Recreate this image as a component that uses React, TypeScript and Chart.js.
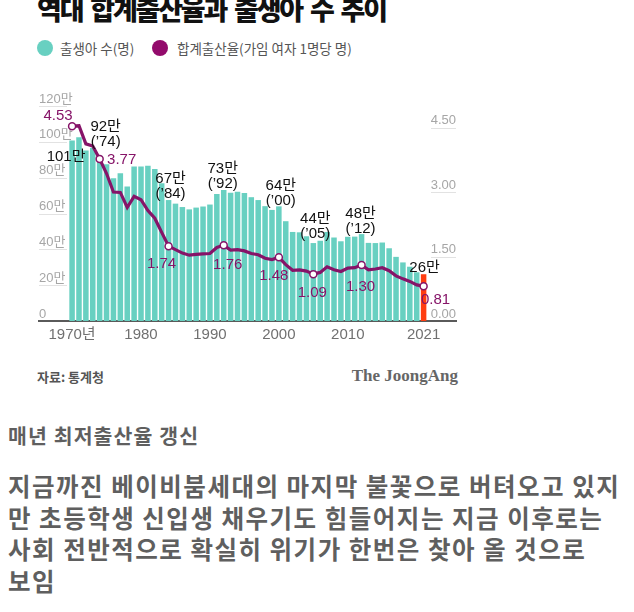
import React, { useEffect, useRef } from 'react';
import { Chart, registerables } from 'chart.js';

Chart.register(...registerables);

// ---------- data ----------
const years = [
  1970, 1971, 1972, 1973, 1974, 1975, 1976, 1977, 1978, 1979,
  1980, 1981, 1982, 1983, 1984, 1985, 1986, 1987, 1988, 1989,
  1990, 1991, 1992, 1993, 1994, 1995, 1996, 1997, 1998, 1999,
  2000, 2001, 2002, 2003, 2004, 2005, 2006, 2007, 2008, 2009,
  2010, 2011, 2012, 2013, 2014, 2015, 2016, 2017, 2018, 2019,
  2020, 2021,
];
// births, unit: 만 명
const births = [
  100.7, 102.5, 95.2, 96.7, 92.3, 87.5, 79.7, 82.5, 75.1, 86.2,
  86.3, 86.7, 84.8, 76.9, 67.5, 65.5, 63.6, 62.3, 63.3, 63.9,
  65.0, 70.9, 73.1, 71.6, 72.1, 71.5, 69.1, 67.5, 64.1, 62.0,
  64.0, 55.7, 49.7, 49.5, 47.3, 43.5, 44.8, 49.7, 46.6, 44.5,
  47.0, 47.1, 48.5, 43.6, 43.5, 43.8, 40.6, 35.8, 32.7, 30.3,
  27.2, 26.1,
];
// total fertility rate
const tfr = [
  4.53, 4.54, 4.12, 4.07, 3.77, 3.43, 3.0, 2.99, 2.64, 2.9,
  2.82, 2.57, 2.39, 2.06, 1.74, 1.66, 1.58, 1.53, 1.55, 1.56,
  1.57, 1.71, 1.76, 1.65, 1.66, 1.63, 1.57, 1.54, 1.46, 1.43,
  1.48, 1.31, 1.18, 1.19, 1.16, 1.09, 1.13, 1.26, 1.19, 1.15,
  1.23, 1.24, 1.3, 1.19, 1.21, 1.24, 1.17, 1.05, 0.98, 0.92,
  0.84, 0.81,
];
const highlightYears = [1970, 1974, 1984, 1992, 2000, 2005, 2012, 2021];
const birthLabelYears = [1970, 1974, 1984, 1992, 2000, 2005, 2012, 2021];
const birthLabelTexts = ['101만', '92만', '67만', '73만', '64만', '44만', '48만', '26만'];
const birthLabelSubs = ['', '(’74)', '(’84)', '(’92)', '(’00)', '(’05)', '(’12)', ''];
const xTickYears = [1970, 1980, 1990, 2000, 2010, 2021];
const leftTicks = [0, 20, 40, 60, 80, 100, 120];
const rightTicks = [0, 1.5, 3, 4.5];

const seriesNames = ['출생아 수(명)', '합계출산율(가임 여자 1명당 명)'];
const titleText = '역대 합계출산율과 출생아 수 추이';
const sourceText = '자료: 통계청';
const brandText = 'The JoongAng';
const headText = '매년 최저출산율 갱신';
const bodyLines = [
  '지금까진 베이비붐세대의 마지막 불꽃으로 버텨오고 있지',
  '만 초등학생 신입생 채우기도 힘들어지는 지금 이후로는',
  '사회 전반적으로 확실히 위기가 한번은 찾아 올 것으로',
  '보임',
];

// ---------- styles ----------
const TEAL = '#68d0c1';
const RED = '#ff3d10';
const PURPLE = '#861468';
const LEGEND_PURPLE = '#930b6c';
const LABEL_FONT = '"Liberation Sans", "Noto Sans CJK KR", sans-serif';

// pixel offsets of the annotation labels from their anchors
const rateLabelOffsets = [
  [-14, -10], [22, 1], [-7, 18], [4, 20], [-5, 18], [-1, 19], [-1, 22], [12, 14],
];
const birthLabelOffsets = [
  [-6, 16], [6, -29], [2, -21], [-1, -21], [2, -20], [2, -24], [-1, -20], [1, -6],
];

const annotationPlugin = {
  id: 'annotations',
  afterDatasetsDraw(chart: any) {
    const { ctx, scales, chartArea } = chart;
    const xs = scales.x;
    const ys = scales.y;
    const y2 = scales.y2;
    ctx.save();
    // short rules under the tick labels
    ctx.strokeStyle = '#e2e2e2';
    ctx.lineWidth = 1;
    rightTicks.forEach((v) => {
      if (v === 0) return;
      const py = Math.round(y2.getPixelForValue(v)) + 0.5;
      ctx.beginPath();
      ctx.moveTo(chartArea.right - 25, py);
      ctx.lineTo(chartArea.right, py);
      ctx.stroke();
    });
    leftTicks.forEach((v) => {
      if (v === 0) return;
      const py = Math.round(ys.getPixelForValue(v)) + 0.5;
      ctx.beginPath();
      ctx.moveTo(chartArea.left, py);
      ctx.lineTo(chartArea.left + 28, py);
      ctx.stroke();
    });

    ctx.textAlign = 'center';
    ctx.textBaseline = 'middle';
    ctx.font = '15px ' + LABEL_FONT;
    // fertility-rate labels
    ctx.fillStyle = PURPLE;
    highlightYears.forEach((yr, i) => {
      const idx = years.indexOf(yr);
      const px = xs.getPixelForValue(yr);
      const py = y2.getPixelForValue(tfr[idx]);
      const [dx, dy] = rateLabelOffsets[i];
      ctx.fillText(tfr[idx].toFixed(2), px + dx, py + dy);
    });
    // birth labels
    ctx.fillStyle = '#111';
    birthLabelYears.forEach((yr, i) => {
      const idx = years.indexOf(yr);
      const px = xs.getPixelForValue(yr);
      const py = ys.getPixelForValue(births[idx]);
      const [dx, dy] = birthLabelOffsets[i];
      ctx.fillText(birthLabelTexts[i], px + dx, py + dy);
      if (birthLabelSubs[i]) ctx.fillText(birthLabelSubs[i], px + dx, py + dy + 15);
    });
    ctx.restore();
  },
};

function BirthChart() {
  const ref = useRef<HTMLCanvasElement | null>(null);
  useEffect(() => {
    if (!ref.current) return;
    const chart = new Chart(ref.current, {
      type: 'bar',
      data: {
        datasets: [
          {
            type: 'line',
            label: seriesNames[1],
            data: years.map((yr, i) => ({ x: yr, y: tfr[i] })),
            yAxisID: 'y2',
            borderColor: PURPLE,
            borderWidth: 3.2,
            tension: 0,
            pointRadius: years.map((yr) => (highlightYears.includes(yr) ? 3.5 : 0)),
            pointHoverRadius: 0,
            pointBackgroundColor: '#fff',
            pointBorderColor: PURPLE,
            pointBorderWidth: 1.5,
            order: 0,
          } as any,
          {
            type: 'bar',
            label: seriesNames[0],
            data: years.map((yr, i) => ({ x: yr, y: births[i] })),
            yAxisID: 'y',
            backgroundColor: years.map((yr, i) => (i === years.length - 1 ? RED : TEAL)),
            barPercentage: 0.8,
            categoryPercentage: 1,
            order: 1,
          } as any,
        ],
      },
      options: {
        animation: false,
        responsive: false,
        maintainAspectRatio: false,
        layout: { padding: { top: 16, left: 0, right: 0, bottom: 0 } },
        plugins: {
          legend: { display: false },
          tooltip: { enabled: false },
          title: { display: false },
        },
        scales: {
          x: {
            type: 'linear',
            offset: false,
            min: 1965.2,
            max: 2025.7,
            afterBuildTicks: (axis: any) => {
              axis.ticks = xTickYears.map((v) => ({ value: v }));
            },
            ticks: {
              autoSkip: false,
              maxRotation: 0,
              padding: 5,
              color: '#707070',
              font: { family: '"Liberation Sans Narrow", "Liberation Sans", "Noto Sans CJK KR", sans-serif', size: 15 },
              callback: (v: any) => (v === 1970 ? '1970년' : String(v)),
            },
            grid: { display: true, offset: false, drawOnChartArea: false, drawTicks: false, color: 'rgba(0,0,0,0)' },
            border: { display: true, color: '#5a5a5a', width: 2 },
          },
          y: {
            type: 'linear',
            position: 'left',
            min: 0,
            max: 120,
            afterBuildTicks: (axis: any) => {
              axis.ticks = leftTicks.map((v) => ({ value: v }));
            },
            ticks: {
              mirror: true,
              padding: 0,
              labelOffset: -7,
              color: '#a6a6a6',
              font: { family: LABEL_FONT, size: 13 },
              callback: (v: any) => (v === 0 ? '0' : v + '만'),
            },
            grid: { display: false, drawTicks: false },
            border: { display: false },
          },
          y2: {
            type: 'linear',
            position: 'right',
            min: 0,
            max: 5,
            afterBuildTicks: (axis: any) => {
              axis.ticks = rightTicks.map((v) => ({ value: v }));
            },
            ticks: {
              mirror: true,
              padding: 0,
              labelOffset: -7,
              color: '#a6a6a6',
              font: { family: LABEL_FONT, size: 13 },
              callback: (v: any) => Number(v).toFixed(2),
            },
            grid: { display: false, drawTicks: false },
            border: { display: false },
          },
        },
      },
      plugins: [annotationPlugin],
    });
    return () => chart.destroy();
  }, []);
  return (
    <canvas
      ref={ref}
      width={427}
      height={259}
      style={{ position: 'absolute', left: 34, top: 90, width: 427, height: 259 }}
    />
  );
}

const KR = '"Noto Sans CJK KR", "Noto Sans", sans-serif';

export default function App() {
  return (
    <div
      style={{
        position: 'absolute',
        left: 0,
        top: 0,
        width: 634,
        height: 612,
        overflow: 'hidden',
        background: '#fff',
        fontFamily: KR,
      }}
    >
      <div
        style={{
          position: 'absolute',
          left: 37,
          top: -6,
          fontSize: 27,
          fontWeight: 900,
          letterSpacing: -2.2,
          wordSpacing: 4,
          lineHeight: '30px',
          color: '#111',
          whiteSpace: 'nowrap',
        }}
      >
        {titleText}
      </div>
      {/* legend */}
      <div style={{ position: 'absolute', left: 37, top: 40, width: 16, height: 16, borderRadius: 8, background: TEAL }} />
      <div style={{ position: 'absolute', left: 60, top: 38, fontSize: 13.5, lineHeight: '20px', color: '#555', whiteSpace: 'nowrap' }}>
        {seriesNames[0]}
      </div>
      <div style={{ position: 'absolute', left: 152, top: 40, width: 16, height: 16, borderRadius: 8, background: LEGEND_PURPLE }} />
      <div style={{ position: 'absolute', left: 177, top: 38, fontSize: 13.5, lineHeight: '20px', color: '#555', whiteSpace: 'nowrap' }}>
        {seriesNames[1]}
      </div>

      <BirthChart />

      <div style={{ position: 'absolute', left: 37, top: 367, fontSize: 13, fontWeight: 700, lineHeight: '20px', color: '#555', whiteSpace: 'nowrap' }}>
        {sourceText}
      </div>
      <div
        style={{
          position: 'absolute',
          right: 634 - 458,
          top: 365,
          fontSize: 17,
          fontWeight: 700,
          lineHeight: '22px',
          color: '#666',
          fontFamily: '"Liberation Serif", "DejaVu Serif", serif',
          whiteSpace: 'nowrap',
        }}
      >
        {brandText}
      </div>

      <div style={{ position: 'absolute', left: 8, top: 421, fontSize: 20.5, fontWeight: 700, letterSpacing: 1.1, lineHeight: '29px', color: '#5f5f5f', whiteSpace: 'nowrap' }}>
        {headText}
      </div>
      <div style={{ position: 'absolute', left: 8, top: 470, fontSize: 24.5, fontWeight: 700, letterSpacing: 1.5, lineHeight: '31.5px', color: '#5f5f5f' }}>
        {bodyLines.map((l, i) => (
          <div key={i} style={{ whiteSpace: 'nowrap' }}>
            {l}
          </div>
        ))}
      </div>
    </div>
  );
}
